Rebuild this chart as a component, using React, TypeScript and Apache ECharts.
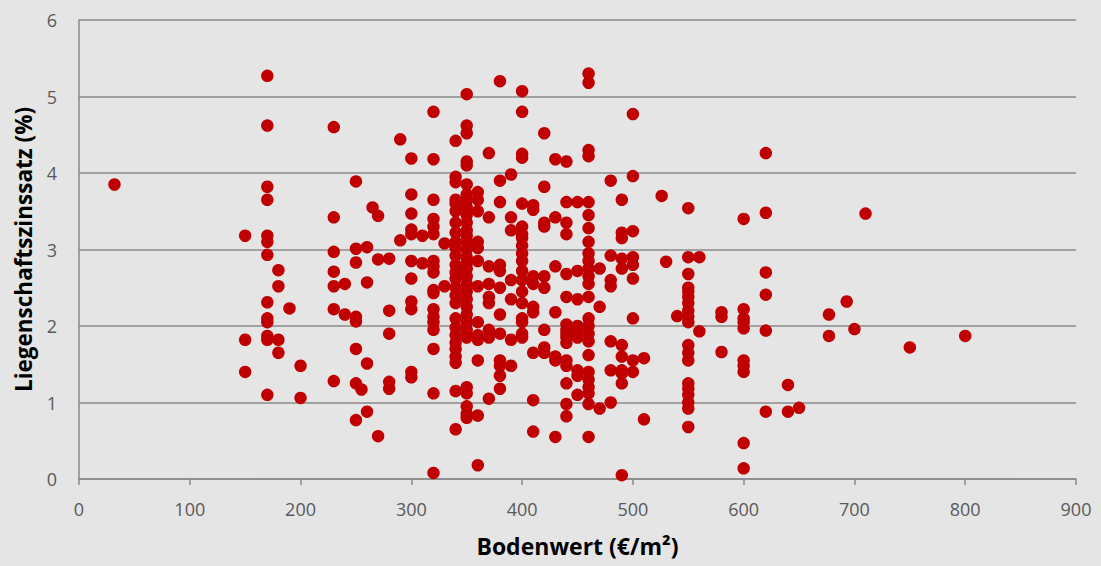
import React, { useEffect, useRef } from "react";
import * as echarts from "echarts";

// Bodenwert (€/m²) columns and the Liegenschaftszinssatz (%) values observed at each
const bodenwerte: number[] = [
  32, 150, 170, 180, 190, 200, 230, 240, 250, 255, 260, 265, 270, 280, 290, 300, 310, 320, 330, 340,
  350, 360, 370, 380, 390, 400, 410, 420, 430, 440, 450, 460, 470, 480, 490, 500, 510, 526, 530, 540,
  550, 560, 580, 600, 620, 640, 650, 677, 693, 700, 710, 750, 800,
];

const zinssaetze: number[][] = [
  [3.85],
  [3.18, 1.82, 1.4],
  [5.27, 4.62, 3.82, 3.65, 3.18, 3.1, 2.93, 2.31, 2.1, 2.05, 1.87, 1.82, 1.1],
  [2.73, 2.52, 1.82, 1.65],
  [2.23],
  [1.48, 1.06],
  [4.6, 3.42, 2.97, 2.71, 2.52, 2.22, 1.28],
  [2.55, 2.15],
  [3.89, 3.01, 2.83, 2.12, 2.06, 1.7, 1.25, 0.77],
  [1.17],
  [3.03, 2.57, 1.51, 0.88],
  [3.55],
  [3.44, 2.87, 0.56],
  [2.88, 2.2, 1.9, 1.27, 1.18],
  [4.44, 3.12],
  [4.19, 3.72, 3.47, 3.26, 3.2, 2.85, 2.62, 2.32, 2.22, 1.4, 1.33],
  [3.18, 2.82],
  [4.8, 4.18, 3.65, 3.4, 3.3, 3.2, 2.85, 2.78, 2.7, 2.47, 2.43, 2.22, 2.12, 2.05, 1.95, 1.7, 1.12, 0.08],
  [3.08, 2.52],
  [4.42, 3.95, 3.88, 3.65, 3.6, 3.5, 3.35, 3.22, 3.1, 3.02, 2.92, 2.8, 2.7, 2.62, 2.5, 2.4, 2.3, 2.1, 1.98, 1.88, 1.78, 1.7, 1.6, 1.52, 1.15, 0.65],
  [5.03, 4.62, 4.52, 4.15, 4.1, 3.85, 3.72, 3.65, 3.55, 3.45, 3.35, 3.25, 3.18, 3.1, 3.0, 2.9, 2.82, 2.75, 2.65, 2.55, 2.45, 2.35, 2.25, 2.15, 2.05, 1.95, 1.85, 1.2, 1.12, 0.95, 0.85, 0.8],
  [3.75, 3.65, 3.5, 3.1, 3.02, 2.85, 2.52, 2.05, 1.88, 1.82, 1.55, 0.83, 0.18],
  [4.26, 3.42, 2.78, 2.55, 2.38, 2.3, 1.95, 1.85, 1.05],
  [5.2, 3.9, 3.62, 2.8, 2.72, 2.5, 2.15, 1.9, 1.55, 1.48, 1.35, 1.18],
  [3.98, 3.42, 3.25, 2.6, 2.35, 1.82, 1.48],
  [5.07, 4.8, 4.25, 4.2, 3.6, 3.3, 3.2, 3.15, 3.05, 2.95, 2.85, 2.72, 2.6, 2.45, 2.3, 2.1, 2.05, 1.9, 1.85],
  [3.58, 3.52, 2.65, 2.55, 2.25, 2.18, 1.65, 1.03, 0.62],
  [4.52, 3.82, 3.35, 3.3, 2.65, 2.5, 1.95, 1.72, 1.65],
  [4.18, 3.42, 2.78, 2.18, 1.6, 1.55, 0.55],
  [4.15, 3.62, 3.35, 3.2, 2.68, 2.38, 2.02, 1.95, 1.9, 1.85, 1.78, 1.55, 1.48, 1.25, 0.98, 0.82],
  [3.62, 2.72, 2.35, 2.0, 1.95, 1.85, 1.42, 1.35, 1.1],
  [5.3, 5.18, 4.3, 4.22, 3.62, 3.45, 3.28, 3.1, 2.95, 2.85, 2.75, 2.65, 2.55, 2.38, 2.1, 2.0, 1.9, 1.8, 1.62, 1.4, 1.3, 1.2, 1.12, 0.98, 0.55],
  [2.75, 2.25, 0.92],
  [3.9, 2.92, 2.6, 2.52, 1.8, 1.42, 1.0],
  [3.65, 3.22, 3.15, 2.88, 2.75, 1.75, 1.6, 1.42, 1.38, 1.25, 0.05],
  [4.77, 3.96, 3.24, 2.9, 2.8, 2.62, 2.1, 1.55, 1.4],
  [1.58, 0.78],
  [3.7],
  [2.84],
  [2.13],
  [3.54, 2.9, 2.68, 2.5, 2.45, 2.38, 2.3, 2.2, 2.12, 2.05, 1.75, 1.65, 1.55, 1.25, 1.18, 1.1, 1.0, 0.92, 0.68],
  [2.9, 1.93],
  [2.18, 2.12, 1.66],
  [3.4, 2.22, 2.1, 2.05, 1.97, 1.55, 1.48, 1.4, 0.47, 0.14],
  [4.26, 3.48, 2.7, 2.41, 1.94, 0.88],
  [1.23, 0.88],
  [0.93],
  [2.15, 1.87],
  [2.32],
  [1.96],
  [3.47],
  [1.72],
  [1.87],
];

const xTitle = "Bodenwert (€/m²)";
const yTitle = "Liegenschaftszinssatz (%)";

export default function App() {
  const ref = useRef<HTMLDivElement>(null);
  useEffect(() => {
    if (!ref.current) return;
    const chart = echarts.init(ref.current, undefined, { renderer: "svg" });
    const points: number[][] = [];
    bodenwerte.forEach((x, i) => {
      zinssaetze[i].forEach((y) => points.push([x, y]));
    });
    const font = "'Open Sans', 'Noto Sans', sans-serif";
    chart.setOption({
      animation: false,
      backgroundColor: "#e5e5e5",
      textStyle: { fontFamily: font },
      grid: { left: 79, right: 25, top: 20, bottom: 87, containLabel: false },
      xAxis: {
        type: "value",
        min: 0,
        max: 900,
        interval: 100,
        name: xTitle,
        nameLocation: "middle",
        nameGap: 55,
        nameTextStyle: { fontSize: 23, fontWeight: "bold", color: "#000", fontFamily: font },
        axisLine: { show: true, lineStyle: { color: "#8a8a8a", width: 1.5 } },
        axisTick: { show: true, length: 6, lineStyle: { color: "#8a8a8a", width: 1.5 } },
        axisLabel: { fontSize: 18, color: "#595959", margin: 21, fontFamily: font },
        splitLine: { show: false },
      },
      yAxis: {
        type: "value",
        min: 0,
        max: 6,
        interval: 1,
        name: yTitle,
        nameLocation: "middle",
        nameGap: 44,
        nameTextStyle: { fontSize: 22.5, fontWeight: "bold", color: "#000", fontFamily: font },
        axisLine: { show: true, lineStyle: { color: "#8a8a8a", width: 1.5 } },
        axisTick: { show: false },
        axisLabel: { fontSize: 18, color: "#595959", margin: 22, fontFamily: font },
        splitLine: { show: true, lineStyle: { color: "#8a8a8a", width: 1.5 } },
      },
      series: [
        {
          type: "scatter",
          data: points,
          symbol: "circle",
          symbolSize: 12.5,
          itemStyle: { color: "#c00000", opacity: 1 },
        },
      ],
    });
    return () => chart.dispose();
  }, []);
  return <div ref={ref} style={{ width: 1101, height: 566, position: "absolute", left: 0, top: 0 }} />;
}
